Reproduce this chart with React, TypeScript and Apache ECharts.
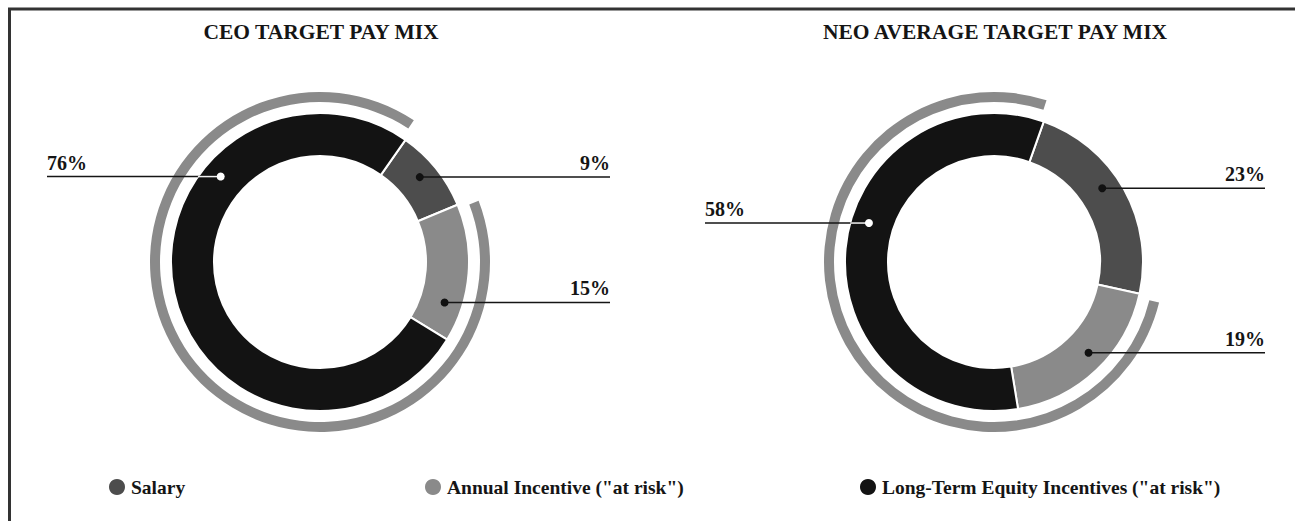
import React, { useEffect, useRef } from 'react';
import * as echarts from 'echarts';

// ---- data ----
const categories = ['Salary', 'Annual Incentive ("at risk")', 'Long-Term Equity Incentives ("at risk")'];
const ceoValues = [9, 15, 76];
const neoValues = [23, 19, 58];
const chartTitles = ['CEO TARGET PAY MIX', 'NEO AVERAGE TARGET PAY MIX'];

// ---- styles / layout ----
const COLORS = ['#4d4d4d', '#8a8a8a', '#131313'];
const RING = '#8a8a8a';
const INK = '#151515';
const FONT = '"Liberation Serif", "Times New Roman", serif';
const INNER_R = 106;
const OUTER_R = 149;
const DOT_R = 131;

const panels = [
  { values: ceoValues, title: chartTitles[0], cx: 320, cy: 262, start: 55, dotAngles: [49.6, 108, 310.7], lineEndX: [610, 610, 47] },
  { values: neoValues, title: chartTitles[1], cx: 994, cy: 262, start: 70.5, dotAngles: [55.7, 133.8, 287.3], lineEndX: [1265, 1265, 705] },
];
const legendLeft = [102, 418, 853];

function dotPos(p: any, i: number) {
  const a = (p.dotAngles[i] * Math.PI) / 180;
  return [p.cx + DOT_R * Math.sin(a), p.cy - DOT_R * Math.cos(a)];
}

export default function App() {
  const ref = useRef<HTMLDivElement>(null);
  useEffect(() => {
    if (!ref.current) return;
    const chart = echarts.init(ref.current, null, { renderer: 'svg' });

    const series: any[] = [];
    const graphics: any[] = [
      { type: 'line', shape: { x1: 8, y1: 9, x2: 1295, y2: 9 }, style: { stroke: '#333', lineWidth: 3 }, z: 100 },
      { type: 'line', shape: { x1: 9.5, y1: 8, x2: 9.5, y2: 521 }, style: { stroke: '#333', lineWidth: 3 }, z: 100 },
    ];

    panels.forEach((p) => {
      series.push({
        type: 'pie',
        center: [p.cx, p.cy],
        radius: [INNER_R, OUTER_R],
        startAngle: p.start,
        clockwise: true,
        avoidLabelOverlap: false,
        emphasis: { disabled: true },
        itemStyle: { borderColor: '#fff', borderWidth: 2 },
        data: p.values.map((v, i) => ({ name: categories[i], value: v, itemStyle: { color: COLORS[i] } })),
        label: {
          show: true,
          position: 'outside',
          formatter: '{c}%',
          fontFamily: FONT,
          fontWeight: 'bold',
          fontSize: 20,
          color: INK,
        },
        labelLine: { show: false },
        labelLayout: (params: any) => {
          const i = params.dataIndex;
          const [, dy] = dotPos(p, i);
          const ex = p.lineEndX[i];
          return {
            x: ex,
            y: dy - 4,
            align: ex > p.cx ? 'right' : 'left',
            verticalAlign: 'bottom',
          };
        },
      });
      series.push({
        type: 'pie',
        center: [p.cx, p.cy],
        radius: [160, 170],
        startAngle: p.start,
        clockwise: true,
        padAngle: 3,
        silent: true,
        emphasis: { disabled: true },
        label: { show: false },
        labelLine: { show: false },
        data: [
          { name: '_base', value: p.values[0], itemStyle: { color: 'transparent' } },
          { name: '_risk', value: p.values[1] + p.values[2], itemStyle: { color: RING } },
        ],
      });

      graphics.push({
        type: 'text',
        x: p.cx + 1,
        y: 32,
        z: 100,
        style: { text: p.title, fill: INK, font: `bold 21.5px ${FONT}`, textAlign: 'center', textVerticalAlign: 'middle' },
      });

      p.values.forEach((_, i) => {
        const [dx, dy] = dotPos(p, i);
        const ex = p.lineEndX[i];
        graphics.push({
          type: 'line',
          z: 100,
          shape: { x1: dx, y1: dy, x2: ex, y2: dy },
          style: { stroke: INK, lineWidth: 1.5 },
        });
        const dark = i === 2;
        if (dark) {
          const off = Math.sqrt(Math.max(0, OUTER_R * OUTER_R - (dy - p.cy) * (dy - p.cy)));
          const edgeX = ex < p.cx ? p.cx - off : p.cx + off;
          graphics.push({
            type: 'line',
            z: 101,
            shape: { x1: dx, y1: dy, x2: edgeX, y2: dy },
            style: { stroke: '#f2f2f2', lineWidth: 1.5 },
          });
        }
        graphics.push({
          type: 'circle',
          z: 102,
          shape: { cx: dx, cy: dy, r: 4 },
          style: { fill: dark ? '#ffffff' : '#111' },
        });
      });
    });

    chart.setOption({
      animation: false,
      backgroundColor: '#ffffff',
      legend: categories.map((name, i) => ({
        data: [name],
        left: legendLeft[i],
        top: 472,
        icon: 'circle',
        itemWidth: 18,
        itemHeight: 18,
        selectedMode: false,
        textStyle: { fontFamily: FONT, fontWeight: 'bold', fontSize: 19.5, color: INK },
      })),
      series,
      graphic: graphics,
    });

    return () => chart.dispose();
  }, []);

  return (
    <div
      ref={ref}
      style={{ position: 'absolute', left: 0, top: 0, width: 1295, height: 521 }}
    />
  );
}
